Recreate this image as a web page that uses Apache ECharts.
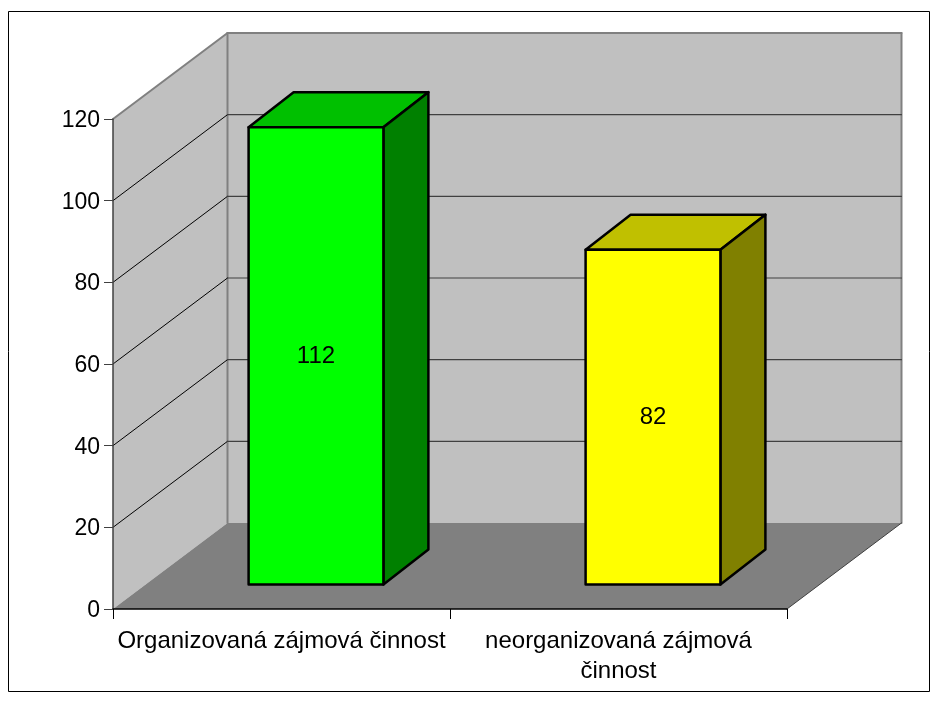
<!DOCTYPE html>
<html>
<head>
<meta charset="utf-8">
<style>
  html, body { margin: 0; padding: 0; background: #fff; }
  #chart { width: 936px; height: 704px; }
</style>
<script src="https://cdn.jsdelivr.net/npm/echarts@6/dist/echarts.min.js"></script>
</head>
<body>
<div id="chart"></div>
<script>
var categories = ['Organizovaná zájmová činnost', 'neorganizovaná zájmová\nčinnost'];
var values = [112, 82];
var yTicks = [0, 20, 40, 60, 80, 100, 120];

var faceColors = ['#00ff00', '#ffff00'];
var topColors = ['#00c000', '#c0c000'];
var sideColors = ['#008000', '#808000'];

// 3d look: pixel offsets into the depth of the chart
var wallDepth = [114.5, -86];
var barNear = [34.5, -24.5];
var barFar = [79.5, -59.5];

var font = '"Liberation Sans", Arial, sans-serif';

var myChart = echarts.init(document.getElementById('chart'));

function poly(points, fill, stroke, width) {
    return {
        type: 'polygon',
        shape: { points: points },
        style: { fill: fill, stroke: stroke || null, lineWidth: width || 0, lineJoin: 'round' }
    };
}

function line(p1, p2, color, width) {
    return {
        type: 'line',
        shape: { x1: p1[0], y1: p1[1], x2: p2[0], y2: p2[1] },
        style: { stroke: color, lineWidth: width, lineCap: 'round' }
    };
}

function shift(p, d) {
    return [p[0] + d[0], p[1] + d[1]];
}

// side wall, back wall and floor
function renderPlanes(params, api) {
    var g = params.coordSys;
    var yBase = api.coord([0, 0])[1];
    var yTop = api.coord([0, yTicks[yTicks.length - 1]])[1];
    var fl = [g.x, yBase], fr = [g.x + g.width, yBase];
    var tl = [g.x, yTop], tr = [g.x + g.width, yTop];
    return {
        type: 'group',
        children: [
            poly([tl, shift(tl, wallDepth), shift(fl, wallDepth), fl], '#c0c0c0'),
            poly([shift(tl, wallDepth), shift(tr, wallDepth), shift(fr, wallDepth), shift(fl, wallDepth)], '#c0c0c0'),
            poly([fl, shift(fl, wallDepth), shift(fr, wallDepth), fr], '#808080'),
            line(tl, shift(tl, wallDepth), '#808080', 2),
            line(shift(tl, wallDepth), shift(tr, wallDepth), '#808080', 2),
            line(shift(tl, wallDepth), shift(fl, wallDepth), '#808080', 2),
            line(shift(tr, wallDepth), shift(fr, wallDepth), '#808080', 2),
            line(fr, shift(fr, wallDepth), '#404040', 1)
        ]
    };
}

// grid lines on the side wall and the back wall
function renderGridLines(params, api) {
    var g = params.coordSys;
    var v = api.value(1);
    if (v === 0 || v === yTicks[yTicks.length - 1]) {
        return null;
    }
    var y = api.coord([0, v])[1];
    var left = shift([g.x, y], wallDepth);
    var right = shift([g.x + g.width, y], wallDepth);
    return {
        type: 'group',
        children: [
            line([g.x, y], left, '#000000', 1),
            line(left, right, '#404040', 1.2)
        ]
    };
}

function renderBar(params, api) {
    var i = api.value(0);
    var v = api.value(1);
    var base = api.coord([i, 0]);
    var top = api.coord([i, v]);
    var half = api.size([1, 0])[0] * 0.2;

    var bl = shift([base[0] - half, base[1]], barNear);
    var br = shift([base[0] + half, base[1]], barNear);
    var tl = shift([top[0] - half, top[1]], barNear);
    var tr = shift([top[0] + half, top[1]], barNear);
    var d = [barFar[0] - barNear[0], barFar[1] - barNear[1]];

    return {
        type: 'group',
        children: [
            poly([tl, shift(tl, d), shift(tr, d), tr], topColors[i], '#000000', 2.5),
            poly([tr, shift(tr, d), shift(br, d), br], sideColors[i], '#000000', 2.5),
            poly([tl, tr, br, bl], faceColors[i], '#000000', 2.5),
            {
                type: 'text',
                style: {
                    text: String(v),
                    x: (tl[0] + tr[0]) / 2,
                    y: (tl[1] + bl[1]) / 2 + 0.5,
                    align: 'center',
                    verticalAlign: 'middle',
                    fontSize: 24,
                    fontFamily: font,
                    fill: '#000000'
                }
            }
        ]
    };
}

var option = {
    backgroundColor: '#ffffff',
    animation: false,
    graphic: [{
        type: 'rect',
        shape: { x: 8.5, y: 11.5, width: 921, height: 680 },
        style: { fill: null, stroke: '#000000', lineWidth: 1 },
        z: 0
    }],
    grid: { left: 113, right: 149, top: 119, bottom: 95 },
    xAxis: {
        type: 'category',
        data: categories,
        z: 5,
        axisLine: { lineStyle: { color: '#000000', width: 1.5 } },
        axisTick: { show: true, length: 10, lineStyle: { color: '#000000', width: 1 } },
        axisLabel: { fontSize: 24, fontFamily: font, color: '#000000', margin: 17, lineHeight: 30, interval: 0 }
    },
    yAxis: {
        type: 'value',
        min: 0,
        max: 120,
        interval: 20,
        z: 5,
        splitLine: { show: false },
        axisLine: { show: true, lineStyle: { color: '#404040', width: 1.5 } },
        axisTick: { show: true, length: 9, lineStyle: { color: '#404040', width: 1 } },
        axisLabel: { fontSize: 23, fontFamily: font, color: '#000000', margin: 13, verticalAlign: 'top', lineHeight: 3 }
    },
    series: [
        { type: 'custom', renderItem: renderPlanes, data: [[0, 0]], encode: { x: 0, y: 1 }, silent: true, z: 1 },
        { type: 'custom', renderItem: renderGridLines, data: yTicks.map(function(t) { return [0, t]; }), encode: { x: 0, y: 1 }, silent: true, z: 2 },
        { type: 'custom', renderItem: renderBar, data: values.map(function(v, i) { return [i, v]; }), encode: { x: 0, y: 1 }, z: 3 }
    ]
};

myChart.setOption(option);
</script>
</body>
</html>
